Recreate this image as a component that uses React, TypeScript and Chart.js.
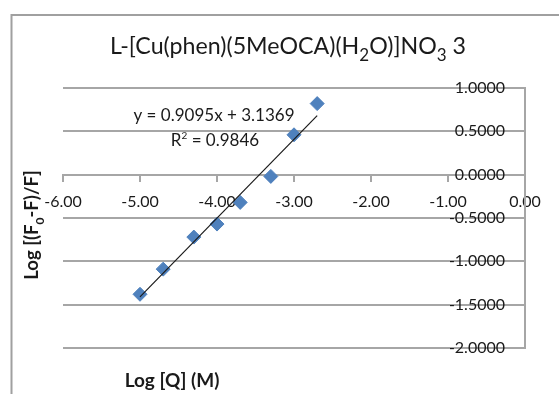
import React, { useEffect, useRef } from 'react';
import { Chart, registerables } from 'chart.js';

Chart.register(...registerables);

// ---- data ----
const logQ = [-5.0, -4.699, -4.301, -4.0, -3.699, -3.301, -3.0, -2.699];
const logQuench = [-1.38, -1.09, -0.72, -0.57, -0.32, -0.02, 0.46, 0.82];
const trendSlope = 0.9095;
const trendIntercept = 3.1369;
const rSquared = 0.9846;
const xAxisRange = [-6, 0];
const yAxisRange = [-2, 1];
const xTickStep = 1;
const yTickStep = 0.5;

const FONT = 'Lato, "Open Sans", sans-serif';
const TEXT = '#1a1a1a';
const GRID = '#a6a6a6';
const MARKER = '#4f81bd';

type Seg = { t: string; mode?: 'sub' | 'sup' };

function drawRich(
  ctx: CanvasRenderingContext2D,
  segs: Seg[],
  x: number,
  y: number,
  size: number,
  weight: string,
  ratio = 0.7
) {
  const main = `${weight} ${size}px ${FONT}`;
  const small = `${weight} ${Math.round(size * ratio)}px ${FONT}`;
  const widths = segs.map((s) => {
    ctx.font = s.mode ? small : main;
    return ctx.measureText(s.t).width;
  });
  const total = widths.reduce((a, b) => a + b, 0);
  let cx = x - total / 2;
  ctx.textAlign = 'left';
  ctx.textBaseline = 'alphabetic';
  segs.forEach((s, i) => {
    ctx.font = s.mode ? small : main;
    const dy = s.mode === 'sub' ? size * 0.3 : s.mode === 'sup' ? -size * 0.42 : 0;
    ctx.fillText(s.t, cx, y + dy);
    cx += widths[i];
  });
}

const decorPlugin = {
  id: 'decor',
  beforeDraw(chart: any) {
    const ctx = chart.ctx as CanvasRenderingContext2D;
    ctx.save();
    ctx.strokeStyle = '#a0a0a0';
    ctx.lineWidth = 2;
    ctx.beginPath();
    ctx.moveTo(11.5, chart.height + 2);
    ctx.lineTo(11.5, 15);
    ctx.lineTo(chart.width + 2, 15);
    ctx.stroke();
    ctx.restore();
  },
  afterDraw(chart: any) {
    const ctx = chart.ctx as CanvasRenderingContext2D;
    ctx.save();
    ctx.fillStyle = TEXT;
    // title
    drawRich(
      ctx,
      [
        { t: 'L-[Cu(phen)(5MeOCA)(H' },
        { t: '2', mode: 'sub' },
        { t: 'O)]NO' },
        { t: '3', mode: 'sub' },
        { t: ' 3' },
      ],
      288,
      54,
      23.2,
      'normal',
      0.72
    );
    // trendline label
    drawRich(
      ctx,
      [{ t: `y = ${trendSlope.toFixed(4)}x + ${trendIntercept.toFixed(4)}` }],
      214,
      120.5,
      17,
      'normal'
    );
    drawRich(
      ctx,
      [{ t: 'R' }, { t: '2', mode: 'sup' }, { t: ` = ${rSquared.toFixed(4)}` }],
      215,
      146,
      17,
      'normal',
      0.6
    );
    // x axis title
    drawRich(ctx, [{ t: 'Log [Q] (M)' }], 172, 387, 19, 'bold');
    // y axis title (rotated)
    ctx.translate(38, 225);
    ctx.rotate(-Math.PI / 2);
    drawRich(
      ctx,
      [{ t: 'Log [(F' }, { t: '0', mode: 'sub' }, { t: '-F)/F]' }],
      0,
      0,
      18.5,
      'bold',
      0.65
    );
    ctx.restore();
  },
};

export default function App() {
  const ref = useRef<HTMLCanvasElement | null>(null);

  useEffect(() => {
    if (!ref.current) return;
    const xMin = Math.min(...logQ);
    const xMax = Math.max(...logQ);
    const trend = [xMin, xMax].map((x) => ({ x, y: trendSlope * x + trendIntercept }));
    const points = logQ.map((x, i) => ({ x, y: logQuench[i] }));

    const chart = new Chart(ref.current, {
      type: 'scatter',
      data: {
        datasets: [
          {
            label: 'Linear',
            data: trend,
            showLine: true,
            borderColor: '#1a1a1a',
            borderWidth: 1.2,
            pointRadius: 0,
            order: 0,
          },
          {
            label: 'data',
            data: points,
            pointStyle: 'rectRot',
            pointRadius: 7,
            pointBackgroundColor: MARKER,
            pointBorderColor: MARKER,
            pointBorderWidth: 1,
            order: 1,
          },
        ],
      },
      options: {
        responsive: false,
        animation: false,
        events: [],
        layout: { padding: { left: 63, right: 34, top: 88, bottom: 46 } },
        plugins: {
          legend: { display: false },
          title: { display: false },
          tooltip: { enabled: false },
        },
        scales: {
          x: {
            type: 'linear',
            position: { y: 0 } as any,
            min: xAxisRange[0],
            max: xAxisRange[1],
            ticks: {
              stepSize: xTickStep,
              callback: (v: any) => Number(v).toFixed(2),
              font: { family: FONT, size: 16 },
              color: TEXT,
              padding: 12,
              maxRotation: 0,
            },
            grid: {
              drawOnChartArea: false,
              drawTicks: true,
              tickLength: 6,
              color: GRID,
              lineWidth: 2,
            },
            border: { display: true, color: GRID, width: 2 },
            afterFit: (s: any) => {
              s.height = 0;
            },
          },
          y: {
            type: 'linear',
            position: 'right',
            min: yAxisRange[0],
            max: yAxisRange[1],
            ticks: {
              stepSize: yTickStep,
              callback: (v: any) => Number(v).toFixed(4),
              font: { family: FONT, size: 16 },
              color: TEXT,
              mirror: true,
              padding: -20,
            },
            grid: {
              drawTicks: false,
              color: GRID,
              lineWidth: 2,
            },
            border: { display: true, color: GRID, width: 2 },
            afterFit: (s: any) => {
              s.width = 0;
            },
          },
        },
      },
      plugins: [decorPlugin],
    });
    return () => chart.destroy();
  }, []);

  return (
    <div style={{ position: 'absolute', left: 0, top: 0, width: 559, height: 394 }}>
      <canvas ref={ref} width={559} height={394} style={{ display: 'block' }} />
    </div>
  );
}
